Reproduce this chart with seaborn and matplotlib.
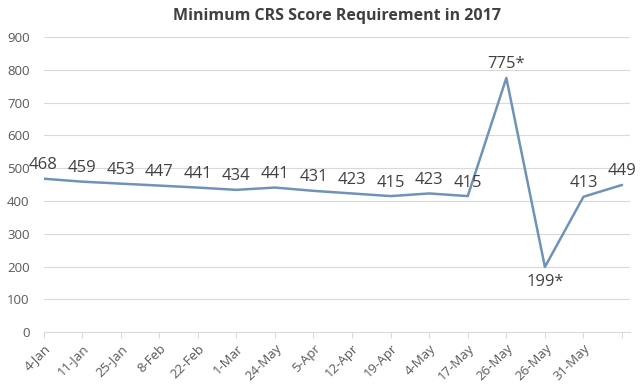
import pandas as pd
import matplotlib.pyplot as plt
import seaborn as sns

dates = ['4-Jan', '11-Jan', '25-Jan', '8-Feb', '22-Feb', '1-Mar', '24-May', '5-Apr',
         '12-Apr', '19-Apr', '4-May', '17-May', '26-May', '26-May', '31-May', '']
scores = [468, 459, 453, 447, 441, 434, 441, 431, 423, 415, 423, 415, 775, 199, 413, 449]
labels = ['468', '459', '453', '447', '441', '434', '441', '431', '423', '415', '423',
          '415', '775*', '199*', '413', '449']

LINE_COLOR = '#6f93b8'
TEXT_COLOR = '#404040'
GRID_COLOR = '#d9d9d9'

sns.set_theme(style="whitegrid")
plt.rcParams['font.family'] = ['Open Sans', 'DejaVu Sans']

df = pd.DataFrame({'pos': range(len(scores)), 'score': scores})

fig, ax = plt.subplots(figsize=(6.4, 3.85), dpi=100)
fig.subplots_adjust(left=0.068, right=0.984, bottom=0.137, top=0.904)

sns.lineplot(ax=ax, data=df, x='pos', y='score', color=LINE_COLOR, linewidth=1.8)

for i, (v, lab) in enumerate(zip(scores, labels)):
    if lab == '199*':
        ax.annotate(lab, (i, v), xytext=(0, -5), textcoords='offset points',
                    ha='center', va='top', fontsize=12, color=TEXT_COLOR)
    else:
        ax.annotate(lab, (i, v), xytext=(0, 4), textcoords='offset points',
                    ha='center', va='bottom', fontsize=12, color=TEXT_COLOR)

ax.set_xlim(0, len(scores) - 1 + 0.2)
ax.set_ylim(0, 900)
ax.set_yticks(range(0, 901, 100))
ax.set_xticks(range(len(dates)))
ax.set_xticklabels(dates, rotation=45, ha='right', rotation_mode='anchor')
ax.tick_params(axis='x', colors=GRID_COLOR, labelcolor='#595959', labelsize=9.5,
               length=4, width=0.8, bottom=True, pad=3)
ax.tick_params(axis='y', labelcolor='#595959', labelsize=9.5, length=0, pad=10)
ax.grid(axis='x', visible=False)
ax.grid(axis='y', color=GRID_COLOR, linewidth=0.8)
ax.set_xlabel('')
ax.set_ylabel('')
for s in ['top', 'right', 'left']:
    ax.spines[s].set_visible(False)
ax.spines['bottom'].set_color(GRID_COLOR)
ax.spines['bottom'].set_linewidth(0.8)

ax.set_title('Minimum CRS Score Requirement in 2017', fontsize=11.5, fontweight='bold',
             color='#404040', pad=12)

fig.savefig('out.png')
